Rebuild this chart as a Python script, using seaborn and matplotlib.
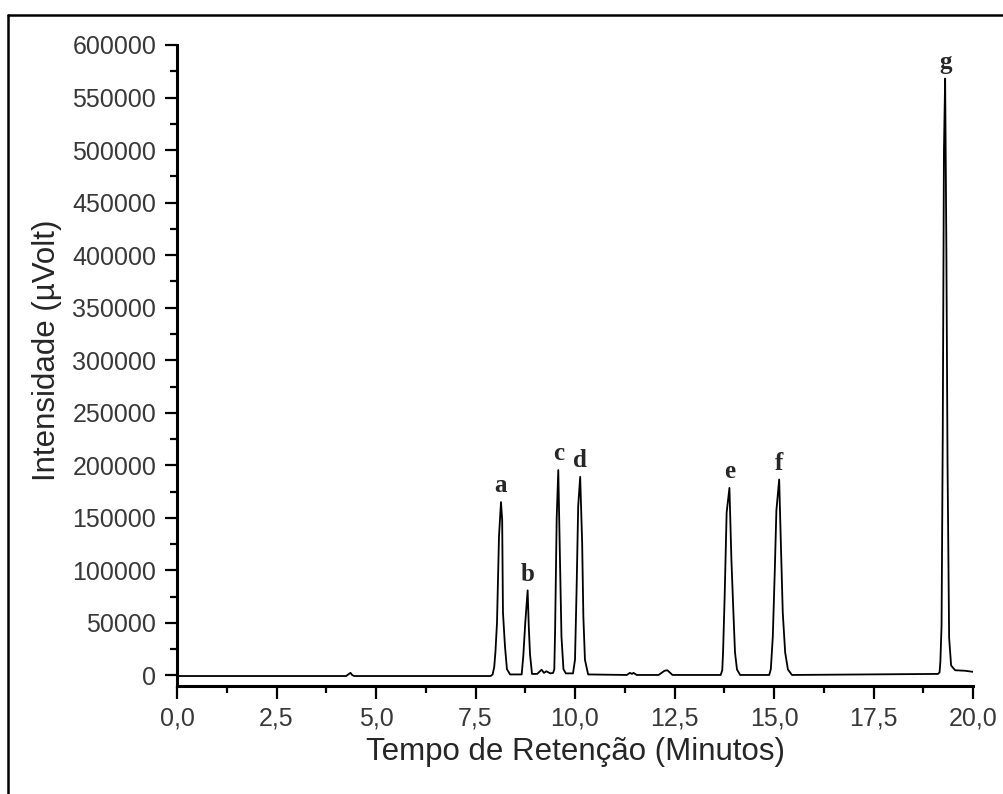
import matplotlib
matplotlib.use("Agg")
import matplotlib.pyplot as plt
from matplotlib.lines import Line2D
from matplotlib.ticker import MultipleLocator, FuncFormatter
import seaborn as sns
import pandas as pd

# ---- data ----
time_min = [0.0, 4.25, 4.32, 4.36, 4.40, 4.45,
            7.88, 7.93, 7.97, 8.00, 8.04, 8.09, 8.14, 8.17, 8.19, 8.24, 8.29, 8.37,
            8.66, 8.70, 8.75, 8.81, 8.84, 8.87, 8.92,
            9.05, 9.16, 9.22, 9.28, 9.38,
            9.45, 9.48, 9.50, 9.54, 9.58, 9.62, 9.66, 9.71, 9.77,
            9.95, 10.00, 10.04, 10.08, 10.13, 10.18, 10.21, 10.25, 10.33,
            11.30, 11.38, 11.43, 11.47, 11.55,
            12.10, 12.25, 12.32, 12.45,
            13.66, 13.70, 13.72, 13.76, 13.81, 13.88, 13.93, 13.98, 14.02, 14.07, 14.15,
            14.88, 14.92, 14.97, 15.02, 15.06, 15.13, 15.17, 15.22, 15.28, 15.35, 15.45,
            19.12, 19.16, 19.18, 19.21, 19.24, 19.27, 19.30, 19.33, 19.36, 19.40, 19.45,
            19.55, 19.80, 20.0]
intensity = [-500, -500, 1500, 2500, 500, -500,
             -500, 1000, 8000, 22000, 50000, 132000, 165000, 148000, 60000, 28000, 6000, 1000,
             1000, 18000, 50000, 81000, 45000, 20000, 1500,
             1500, 5500, 2500, 4000, 2000,
             2500, 6000, 43000, 150000, 195500, 115000, 37000, 6000, 2000,
             2000, 15000, 82000, 161000, 189000, 126000, 56000, 15000, 1000,
             500, 2500, 1500, 2500, 500,
             500, 4500, 5000, 500,
             500, 5000, 22000, 75000, 155000, 178500, 110000, 60000, 22000, 5700, 500,
             500, 6000, 37000, 100000, 157000, 186500, 129000, 60000, 22000, 5700, 500,
             1500, 3000, 13000, 47500, 229000, 500000, 568000, 411000, 203000, 36000, 9500,
             5000, 4500, 3500]

peak_labels = ["a", "b", "c", "d", "e", "f", "g"]
peak_times = [8.14, 8.81, 9.58, 10.13, 13.88, 15.13, 19.30]
peak_heights = [165000, 81000, 195500, 189000, 178500, 186500, 568000]

x_ticks = [0.0, 2.5, 5.0, 7.5, 10.0, 12.5, 15.0, 17.5, 20.0]
y_ticks = [0, 50000, 100000, 150000, 200000, 250000, 300000,
           350000, 400000, 450000, 500000, 550000, 600000]

x_label = "Tempo de Retenção (Minutos)"
y_label = "Intensidade (µVolt)"

# ---- plotting ----
sns.set_style("ticks")
plt.rcParams["font.family"] = ["Liberation Sans", "DejaVu Sans"]

fig = plt.figure(figsize=(10.04, 7.94), dpi=100)
ax = fig.add_axes([177 / 1004, 1 - 686 / 794, (973 - 177) / 1004, (686 - 45) / 794])

df = pd.DataFrame({"t": time_min, "I": intensity})
sns.lineplot(data=df, x="t", y="I", ax=ax, sort=False, estimator=None,
             color="black", linewidth=1.3)

ax.set_xlim(0, 20)
ax.set_ylim(-10000, 600000)
ax.set_xticks(x_ticks)
ax.set_yticks(y_ticks)
ax.xaxis.set_minor_locator(MultipleLocator(1.25))
ax.yaxis.set_minor_locator(MultipleLocator(25000))
ax.xaxis.set_major_formatter(FuncFormatter(lambda v, p: f"{v:.1f}".replace(".", ",")))
ax.yaxis.set_major_formatter(FuncFormatter(lambda v, p: f"{int(v)}"))

for side in ["top", "right"]:
    ax.spines[side].set_visible(False)
for side in ["left", "bottom"]:
    ax.spines[side].set_linewidth(2.2)
    ax.spines[side].set_color("black")

ax.tick_params(axis="both", which="major", direction="out", length=9, width=1.6,
               labelsize=18, colors="black", labelcolor="#383838", pad=6)
ax.tick_params(axis="both", which="minor", direction="out", length=5, width=1.6,
               colors="black")

ax.set_xlabel(x_label, fontsize=22.5)
ax.set_ylabel(y_label, fontsize=22.5)
ax.xaxis.set_label_coords(0.5, -0.079)
ax.yaxis.set_label_coords(-0.145, 0.524)

for lab, t, h in zip(peak_labels, peak_times, peak_heights):
    ax.annotate(lab, xy=(t, h), xytext=(0, 7), textcoords="offset points",
                ha="center", va="baseline", fontsize=18, fontweight="bold",
                family=["Liberation Serif", "DejaVu Serif"])

# figure frame (top and left edges visible in the reference)
fig.add_artist(Line2D([8 / 1004, 1.0], [1 - 15 / 794, 1 - 15 / 794],
                      transform=fig.transFigure, color="black", linewidth=1.8))
fig.add_artist(Line2D([8 / 1004, 8 / 1004], [0.0, 1 - 15 / 794],
                      transform=fig.transFigure, color="black", linewidth=1.8))

fig.savefig("out.png", dpi=100)
